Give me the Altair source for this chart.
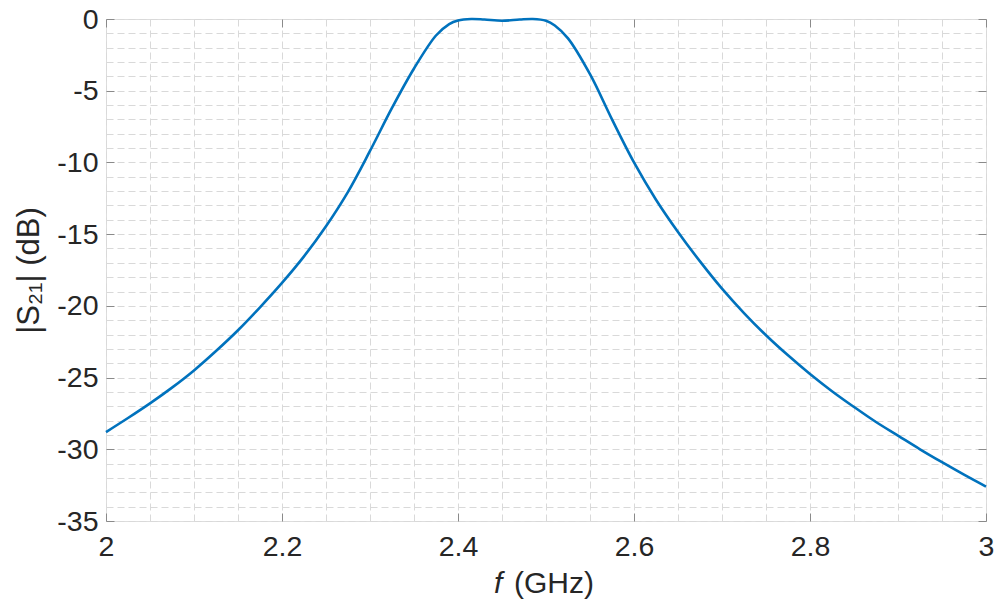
import altair as alt
import pandas as pd

# ---- data ----
freq_ghz = [2.0, 2.025, 2.05, 2.075, 2.1, 2.125, 2.15, 2.175, 2.2, 2.225,
            2.25, 2.275, 2.3, 2.325, 2.35, 2.375, 2.39, 2.4, 2.415, 2.43,
            2.45, 2.47, 2.485, 2.5, 2.51, 2.525, 2.55, 2.575, 2.6, 2.625,
            2.65, 2.675, 2.7, 2.725, 2.75, 2.775, 2.8, 2.825, 2.85, 2.875,
            2.9, 2.925, 2.95, 2.975, 3.0]
s21_db = [-28.8, -27.82, -26.8, -25.7, -24.5, -23.15, -21.7, -20.1, -18.4, -16.55,
          -14.45, -12.05, -9.2, -6.2, -3.45, -1.15, -0.35, -0.1, 0.0, -0.04,
          -0.12, -0.04, 0.0, -0.12, -0.45, -1.35, -3.85, -7.0, -10.0, -12.6,
          -14.85, -16.9, -18.8, -20.5, -22.05, -23.45, -24.75, -25.95, -27.05, -28.1,
          -29.05, -30.0, -30.9, -31.77, -32.6]

x_grid_values = [2.0, 2.05, 2.1, 2.15, 2.2, 2.25, 2.3, 2.35, 2.4, 2.45, 2.5,
                 2.55, 2.6, 2.65, 2.7, 2.75, 2.8, 2.85, 2.9, 2.95, 3.0]
x_major_values = [2.0, 2.2, 2.4, 2.6, 2.8, 3.0]
y_grid_values = [0, -1, -2, -3, -4, -5, -6, -7, -8, -9, -10, -11, -12, -13, -14,
                 -15, -16, -17, -18, -19, -20, -21, -22, -23, -24, -25, -26, -27,
                 -28, -29, -30, -31, -32, -33, -34, -35]
y_major_values = [0, -5, -10, -15, -20, -25, -30, -35]

x_title_parts = ["f", "(GHz)"]
y_title = "|S\u2082\u2081| (dB)"

df = pd.DataFrame({"f": freq_ghz, "s21": s21_db})

FONT = "Liberation Sans"
LABEL_COLOR = "#262626"
AXIS_COLOR = "#8a8a8a"
GRID_COLOR = "#d9d9d9"
LINE_COLOR = "#0072BD"

x_major_test = "abs(datum.value*5 - round(datum.value*5)) < 0.001"
y_major_test = "datum.value % 5 == 0"

xscale = alt.Scale(domain=[2, 3], nice=False, zero=False)
yscale = alt.Scale(domain=[-35, 0], nice=False, zero=False)

main = alt.Chart(df).mark_line(color=LINE_COLOR, strokeWidth=2.6, interpolate="catmull-rom").encode(
    x=alt.X("f:Q", scale=xscale, axis=alt.Axis(
        orient="bottom", values=x_grid_values, offset=-8,
        grid=True, gridColor=GRID_COLOR, gridDash=[7, 4], gridWidth=1,
        domain=False, ticks=True, tickSize=8, tickColor=AXIS_COLOR, tickWidth=1,
        tickOpacity={"condition": {"test": x_major_test, "value": 1}, "value": 0},
        labelExpr=f"{x_major_test} ? '' + datum.value : ''",
        labelFont=FONT, labelFontSize=28.5, labelColor=LABEL_COLOR,
        labelPadding=11, labelFlush=False, labelOverlap=False,
        title=None)),
    y=alt.Y("s21:Q", scale=yscale, axis=alt.Axis(
        orient="left", values=y_grid_values, offset=-8,
        grid=True, gridColor=GRID_COLOR, gridDash=[7, 4], gridWidth=1,
        domain=False, ticks=True, tickSize=8, tickColor=AXIS_COLOR, tickWidth=1,
        tickOpacity={"condition": {"test": y_major_test, "value": 1}, "value": 0},
        labelExpr=f"{y_major_test} ? '' + datum.value : ''",
        labelFont=FONT, labelFontSize=28.5, labelColor=LABEL_COLOR,
        labelPadding=8, labelOverlap=False,
        title=y_title, titleFont=FONT, titleFontSize=31, titleFontWeight="normal",
        titleColor=LABEL_COLOR, titlePadding=11)),
)

box_ticks = alt.Chart(df).mark_line(strokeOpacity=0).encode(
    x=alt.X("f:Q", scale=xscale, axis=alt.Axis(
        orient="top", values=x_major_values, offset=-8, grid=False, domain=False,
        labels=False, ticks=True, tickSize=8, tickColor=AXIS_COLOR, tickWidth=1,
        title=None)),
    y=alt.Y("s21:Q", scale=yscale, axis=alt.Axis(
        orient="right", values=y_major_values, offset=-8, grid=False, domain=False,
        labels=False, ticks=True, tickSize=8, tickColor=AXIS_COLOR, tickWidth=1,
        title=None)),
)

title_f = alt.Chart(pd.DataFrame({"t": [x_title_parts[0]]})).mark_text(
    font=FONT, fontSize=30, fontStyle="italic", color=LABEL_COLOR,
    align="left", baseline="middle").encode(
    text="t:N", x=alt.value(388), y=alt.value(565))

title_unit = alt.Chart(pd.DataFrame({"t": [x_title_parts[1]]})).mark_text(
    font=FONT, fontSize=30, color=LABEL_COLOR,
    align="left", baseline="middle").encode(
    text="t:N", x=alt.value(408), y=alt.value(565))

chart = alt.layer(main, box_ticks, title_f, title_unit).properties(
    width=880, height=502,
    autosize=alt.AutoSizeParams(type="none"),
    padding={"left": 106, "top": 19, "right": 12, "bottom": 83},
).configure_view(stroke=AXIS_COLOR, strokeWidth=1).configure(background="white")

chart.save("out.html", embed_options={"renderer": "svg", "actions": False})
